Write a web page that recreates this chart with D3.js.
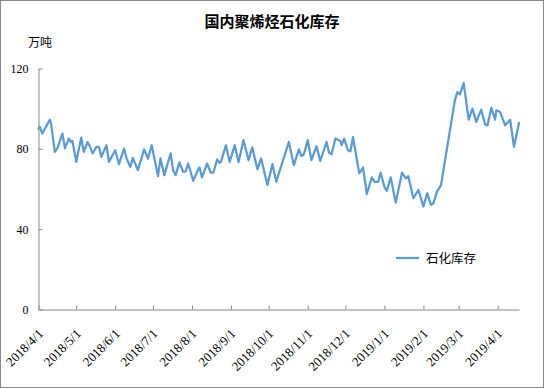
<!DOCTYPE html>
<html>
<head>
<meta charset="utf-8">
<script src="https://cdn.jsdelivr.net/npm/d3@7"></script>
<style>
  html, body { margin: 0; padding: 0; background: #fff; }
  svg { display: block; }
</style>
</head>
<body>
<div id="chart"></div>
<script>
const title = "国内聚烯烃石化库存";
const unitLabel = "万吨";
const seriesName = "石化库存";

// inventory readings, one per date
const dates = [
  "2018-04-01","2018-04-02","2018-04-04","2018-04-10","2018-04-11","2018-04-14","2018-04-16","2018-04-20",
  "2018-04-22","2018-04-25","2018-04-27","2018-04-28","2018-05-01","2018-05-05","2018-05-07","2018-05-10",
  "2018-05-12","2018-05-14","2018-05-17","2018-05-19","2018-05-21","2018-05-25","2018-05-27","2018-06-01",
  "2018-06-04","2018-06-08","2018-06-10","2018-06-13","2018-06-15","2018-06-19","2018-06-24","2018-06-27",
  "2018-06-30","2018-07-05","2018-07-07","2018-07-10","2018-07-15","2018-07-17","2018-07-19","2018-07-22",
  "2018-07-25","2018-07-27","2018-07-29","2018-08-02","2018-08-06","2018-08-07","2018-08-09","2018-08-13",
  "2018-08-16","2018-08-18","2018-08-21","2018-08-23","2018-08-24","2018-08-28","2018-08-31","2018-09-04",
  "2018-09-07","2018-09-11","2018-09-15","2018-09-18","2018-09-22","2018-09-25","2018-09-30","2018-10-04",
  "2018-10-07","2018-10-17","2018-10-21","2018-10-25","2018-10-27","2018-10-29","2018-11-01","2018-11-04",
  "2018-11-08","2018-11-11","2018-11-16","2018-11-18","2018-11-20","2018-11-23","2018-11-27","2018-11-28",
  "2018-11-30","2018-12-03","2018-12-05","2018-12-07","2018-12-12","2018-12-15","2018-12-18","2018-12-22",
  "2018-12-24","2018-12-27","2018-12-29","2019-01-01","2019-01-03","2019-01-06","2019-01-10","2019-01-15",
  "2019-01-18","2019-01-20","2019-01-24","2019-01-28","2019-01-29","2019-02-01","2019-02-04","2019-02-07",
  "2019-02-09","2019-02-12","2019-02-13","2019-02-15","2019-02-26","2019-02-28","2019-03-02","2019-03-05",
  "2019-03-09","2019-03-12","2019-03-15","2019-03-19","2019-03-22","2019-03-24","2019-03-27","2019-03-30",
  "2019-03-31","2019-04-03","2019-04-07","2019-04-11","2019-04-14","2019-04-18"
];
const values = [
  90, 91, 87.6, 94.5, 92.6, 78.5, 80.2, 87.6,
  80.2, 85.1, 83.4, 83.9, 73.5, 85.6, 78.5, 83.4,
  81, 77.7, 81, 81, 76, 81.8, 73.5, 79.3,
  72.4, 80.2, 75.2, 71, 75.5, 69.4, 79.7, 75.2,
  81.8, 66.4, 75.2, 66.9, 77.7, 69.4, 66.9, 73.2,
  68.6, 68.6, 72.7, 64.1, 69.8, 70.7, 65.8, 72.7,
  68.1, 68.1, 74.7, 73, 73.5, 81.8, 73.5, 81.8,
  73.5, 84.3, 74.4, 80.7, 69.8, 75.2, 62, 72.4,
  63.6, 83.4, 71.9, 79.7, 76.4, 77.3, 84.3, 74.4,
  81.3, 74, 83.4, 78, 77.3, 85.1, 83.9, 81.8,
  85.1, 79.3, 78.8, 85.9, 67.8, 70.7, 57.5, 65.8,
  63.6, 63.6, 68.1, 61.1, 59.1, 65.8, 53.2, 68.1,
  65.3, 66.4, 55.4, 59.5, 57.5, 51.2, 57.9, 52.1,
  52.9, 59.1, 59.8, 62, 104.1, 108.2, 107.1, 112.7,
  94.5, 100, 93.4, 99.5, 92.2, 91.7, 100.5, 94.5,
  99.2, 98.3, 91.7, 94.5, 81, 92.9
];

const yTicks = [0, 40, 80, 120];
const xTickLabels = [
  "2018/4/1","2018/5/1","2018/6/1","2018/7/1","2018/8/1","2018/9/1","2018/10/1",
  "2018/11/1","2018/12/1","2019/1/1","2019/2/1","2019/3/1","2019/4/1"
];

const W = 544, H = 388;
const plot = { left: 38.5, right: 519, top: 68.5, bottom: 309.5 };
const axisColor = "#898989";
const lineColor = "#5B9BD5";
const latin = "'Liberation Serif', 'Times New Roman', serif";
const cjk = "'Noto Sans CJK SC', sans-serif";

const parse = d3.timeParse("%Y-%m-%d");
const parseTick = d3.timeParse("%Y/%m/%d");
const points = dates.map((d, i) => ({ date: parse(d), value: values[i] }));
const tickDates = xTickLabels.map(s => parseTick(s));

const x = d3.scaleTime()
  .domain([tickDates[0], points[points.length - 1].date])
  .range([plot.left, plot.right]);
const y = d3.scaleLinear().domain([0, 120]).range([plot.bottom, plot.top]);

const svg = d3.select("#chart").append("svg")
  .attr("width", W).attr("height", H)
  .attr("viewBox", `0 0 ${W} ${H}`);

svg.append("rect")
  .attr("x", 0.5).attr("y", 0.5)
  .attr("width", W - 1).attr("height", H - 1)
  .attr("fill", "#fff").attr("stroke", axisColor);

svg.append("text")
  .attr("x", W / 2).attr("y", 27)
  .attr("text-anchor", "middle")
  .style("font-family", cjk).style("font-size", "15px").style("font-weight", "bold")
  .text(title);

svg.append("text")
  .attr("x", 28).attr("y", 47)
  .style("font-family", cjk).style("font-size", "12px")
  .text(unitLabel);

// y axis: ticks point into the plot
const yAxis = svg.append("g")
  .attr("transform", `translate(${plot.left},0)`)
  .call(d3.axisLeft(y).tickValues(yTicks).tickSize(-4).tickSizeOuter(0).tickPadding(10));
yAxis.select(".domain").attr("stroke", axisColor);
yAxis.selectAll(".tick line").attr("stroke", axisColor);
yAxis.selectAll("text")
  .style("font-family", latin).style("font-size", "12px").attr("fill", "#000");

// x axis with rotated date labels
const xAxis = svg.append("g")
  .attr("transform", `translate(0,${plot.bottom})`)
  .call(d3.axisBottom(x).tickValues(tickDates).tickSize(-4).tickSizeOuter(0)
    .tickFormat((d, i) => xTickLabels[i]));
xAxis.select(".domain").attr("stroke", axisColor);
xAxis.selectAll(".tick line").attr("stroke", axisColor);
xAxis.selectAll("text")
  .attr("x", 0).attr("y", 0).attr("dy", 0)
  .attr("text-anchor", "end")
  .attr("transform", "translate(5,25) rotate(-45)")
  .style("font-family", latin).style("font-size", "13px").attr("fill", "#000");

const line = d3.line()
  .x(d => x(d.date))
  .y(d => y(d.value));

svg.append("path")
  .datum(points)
  .attr("d", line)
  .attr("fill", "none")
  .attr("stroke", lineColor)
  .attr("stroke-width", 2.25)
  .attr("stroke-linejoin", "round")
  .attr("stroke-linecap", "round");

// legend
const lg = svg.append("g").attr("transform", "translate(396,258)");
lg.append("line")
  .attr("x1", 0).attr("x2", 23).attr("y1", 0).attr("y2", 0)
  .attr("stroke", lineColor).attr("stroke-width", 2.25);
lg.append("text")
  .attr("x", 30).attr("y", 4.5)
  .style("font-family", cjk).style("font-size", "12.5px")
  .text(seriesName);
</script>
</body>
</html>
